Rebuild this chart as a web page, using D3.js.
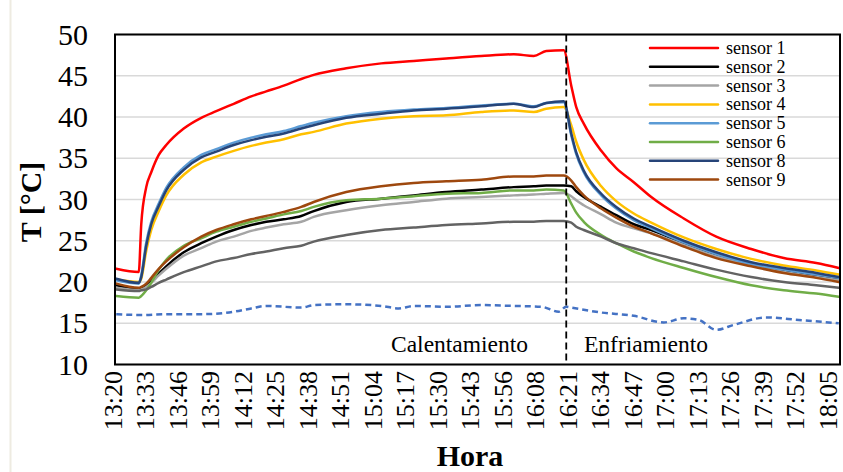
<!DOCTYPE html>
<html>
<head>
<meta charset="utf-8">
<script src="https://cdn.jsdelivr.net/npm/d3@7/dist/d3.min.js"></script>
<style>
  body { margin: 0; background: #fff; }
  svg { display: block; font-family: "Liberation Serif", "Times New Roman", serif; }
</style>
</head>
<body>
<div id="chart"></div>
<script>
// x axis: one category per reading, a label every 13 categories
var tickLabels = ['13:20', '13:33', '13:46', '13:59', '14:12', '14:25', '14:38', '14:51',
  '15:04', '15:17', '15:30', '15:43', '15:56', '16:08', '16:21', '16:34', '16:47',
  '17:00', '17:13', '17:26', '17:39', '17:52', '18:05'];
var categoryCount = 290;
var phaseChange = 180;   // end of heating (dashed line)

// readings at these category indices
var sampleIdx = [0, 9, 10, 12, 14, 17, 20, 27, 34, 40, 47, 54, 60, 67, 74, 79, 92, 106, 119, 132,
  146, 159, 167, 172, 179, 182, 184, 187, 194, 200, 207, 214, 227, 240, 254, 267, 280, 289];

var sensor1 = [21.6, 21.2, 27.0, 31.5, 33.3, 35.4, 36.6, 38.6, 39.9, 40.7, 41.6, 42.5, 43.1, 43.8, 44.6, 45.1, 45.9, 46.5, 46.8, 47.1,
  47.4, 47.6, 47.4, 48.0, 48.1, 43.8, 41.2, 39.2, 35.9, 33.8, 32.1, 30.3, 27.7, 25.5, 24.0, 22.9, 22.3, 21.7];
var sensor2 = [19.6, 19.2, 19.3, 19.6, 20.1, 21.0, 21.9, 23.6, 24.7, 25.5, 26.3, 26.9, 27.3, 27.6, 28.0, 28.6, 29.7, 30.1, 30.5, 30.9,
  31.2, 31.5, 31.6, 31.7, 31.7, 31.6, 31.0, 30.3, 29.1, 28.1, 27.0, 26.3, 24.7, 23.3, 22.1, 21.4, 20.8, 20.4];
var sensor3 = [19.3, 19.0, 19.1, 19.4, 19.9, 20.8, 21.6, 23.2, 24.1, 24.9, 25.5, 26.2, 26.6, 27.0, 27.3, 27.9, 28.7, 29.3, 29.7, 30.1,
  30.3, 30.5, 30.6, 30.7, 30.8, 30.4, 29.9, 29.3, 28.2, 27.2, 26.5, 25.9, 24.5, 23.1, 22.0, 21.2, 20.6, 20.2];
var sensor4 = [20.3, 20.0, 20.4, 23.8, 26.3, 28.6, 30.5, 33.0, 34.5, 35.2, 35.9, 36.5, 36.9, 37.3, 37.9, 38.2, 39.2, 39.8, 40.1, 40.2,
  40.6, 40.8, 40.6, 41.0, 41.2, 39.0, 37.0, 34.8, 31.6, 29.8, 28.3, 27.2, 25.4, 24.0, 22.8, 22.0, 21.4, 20.9];
var sensor5 = [20.2, 19.8, 20.8, 24.8, 27.3, 29.5, 31.4, 33.9, 35.4, 36.1, 36.9, 37.5, 37.9, 38.3, 38.9, 39.3, 40.1, 40.6, 40.9, 41.1,
  41.4, 41.6, 41.3, 41.7, 41.8, 37.8, 35.5, 33.3, 30.5, 28.9, 27.5, 26.5, 24.8, 23.4, 22.2, 21.5, 20.9, 20.5];
var sensor6 = [18.3, 18.1, 18.3, 19.0, 19.9, 21.5, 22.7, 24.4, 25.3, 26.1, 26.7, 27.3, 27.7, 28.2, 28.6, 29.1, 29.9, 30.1, 30.4, 30.7,
  30.8, 31.1, 31.1, 31.2, 31.1, 29.5, 28.4, 27.3, 25.7, 24.7, 23.7, 22.9, 21.7, 20.6, 19.6, 19.0, 18.6, 18.2];
var sensor7 = [19.1, 18.9, 19.0, 19.1, 19.4, 19.9, 20.3, 21.2, 21.9, 22.5, 22.9, 23.4, 23.7, 24.1, 24.4, 24.9, 25.7, 26.3, 26.6, 26.9,
  27.1, 27.3, 27.3, 27.4, 27.4, 27.2, 26.7, 26.3, 25.5, 24.7, 24.1, 23.5, 22.5, 21.5, 20.6, 20.0, 19.6, 19.3];
var sensor8 = [20.4, 19.9, 20.6, 24.4, 27.0, 29.2, 31.1, 33.6, 35.1, 35.8, 36.6, 37.2, 37.6, 38.0, 38.6, 39.0, 39.9, 40.4, 40.8, 41.0,
  41.3, 41.6, 41.2, 41.7, 41.9, 38.0, 35.7, 33.5, 30.7, 29.1, 27.7, 26.7, 25.0, 23.6, 22.4, 21.7, 21.1, 20.6];
var sensor9 = [19.8, 19.3, 19.4, 19.8, 20.5, 21.6, 22.5, 24.2, 25.5, 26.3, 27.0, 27.6, 28.0, 28.5, 29.1, 29.7, 30.9, 31.6, 32.0, 32.2,
  32.4, 32.8, 32.8, 32.9, 32.9, 32.3, 31.5, 30.5, 28.9, 27.8, 26.7, 25.9, 24.3, 22.9, 21.9, 21.1, 20.5, 20.0];

// ambient (dashed), its own sample points
var ambientIdx = [0, 10, 20, 34, 47, 54, 60, 74, 79, 92, 106, 113, 119, 132, 146, 159, 170, 177, 180, 182,
  194, 207, 219, 227, 233, 240, 247, 260, 273, 289];
var ambient = [16.1, 16.0, 16.1, 16.1, 16.4, 16.8, 17.1, 16.9, 17.2, 17.3, 17.1, 16.8, 17.1, 17.0, 17.2, 17.1, 17.0, 16.4, 17.0, 16.9,
  16.3, 15.9, 15.1, 15.6, 15.4, 14.2, 14.8, 15.7, 15.4, 15.0];

var yTicks = [10, 15, 20, 25, 30, 35, 40, 45, 50];

(function () {
  'use strict';

  var width = 843,
    height = 472,
    plot = {left: 115, right: 840, top: 34.5, bottom: 364.5};

  var series = [
    {name: 'sensor 1', values: sensor1, color: '#FF0000', legend: true},
    {name: 'sensor 2', values: sensor2, color: '#000000', legend: true},
    {name: 'sensor 3', values: sensor3, color: '#A5A5A5', legend: true},
    {name: 'sensor 4', values: sensor4, color: '#FFC000', legend: true},
    {name: 'sensor 5', values: sensor5, color: '#5B9BD5', legend: true},
    {name: 'sensor 6', values: sensor6, color: '#70AD47', legend: true},
    {name: 'sensor 7', values: sensor7, color: '#636363', legend: false},
    {name: 'sensor 8', values: sensor8, color: '#264478', legend: true},
    {name: 'sensor 9', values: sensor9, color: '#9E480E', legend: true}
  ];

  var x = d3.scaleLinear()
    .domain([-0.5, categoryCount - 0.5])
    .range([plot.left, plot.right]);

  var y = d3.scaleLinear()
    .domain([10, 50])
    .range([plot.bottom, plot.top]);

  var svg = d3.select('#chart')
    .append('svg')
    .attr('width', width)
    .attr('height', height);

  // faint chart-area edge on the left
  svg.append('line')
    .attr('x1', 10.5).attr('x2', 10.5)
    .attr('y1', 0).attr('y2', height)
    .attr('stroke', '#EEEBE1')
    .attr('stroke-width', 2);

  // gridlines
  svg.append('g')
    .selectAll('line')
    .data(yTicks)
    .enter()
    .append('line')
    .attr('x1', plot.left)
    .attr('x2', plot.right)
    .attr('y1', function (d) { return y(d); })
    .attr('y2', function (d) { return y(d); })
    .attr('stroke', '#D9D9D9')
    .attr('stroke-width', 1.5);

  // y tick labels
  svg.append('g')
    .selectAll('text')
    .data(yTicks)
    .enter()
    .append('text')
    .attr('x', 88)
    .attr('y', function (d) { return y(d); })
    .attr('dy', '0.34em')
    .attr('text-anchor', 'end')
    .attr('font-size', 30)
    .attr('fill', '#000')
    .text(function (d) { return d; });

  // x tick labels, rotated
  svg.append('g')
    .selectAll('text')
    .data(tickLabels)
    .enter()
    .append('text')
    .attr('transform', function (d, i) {
      return 'translate(' + [x(i * 13), 371] + ') rotate(-90)';
    })
    .attr('dy', '0.22em')
    .attr('text-anchor', 'end')
    .attr('font-size', 26)
    .attr('fill', '#000')
    .text(function (d) { return d; });

  // axis titles
  svg.append('text')
    .attr('transform', 'translate(' + [41, 202] + ') rotate(-90)')
    .attr('text-anchor', 'middle')
    .attr('font-size', 30)
    .attr('font-weight', 'bold')
    .text('T [°C]');

  svg.append('text')
    .attr('x', 470)
    .attr('y', 466)
    .attr('text-anchor', 'middle')
    .attr('font-size', 30)
    .attr('font-weight', 'bold')
    .text('Hora');

  var line = d3.line()
    .x(function (d) { return x(d[0]); })
    .y(function (d) { return y(d[1]); })
    .curve(d3.curveMonotoneX);

  var lines = svg.append('g')
    .attr('fill', 'none')
    .attr('stroke-linejoin', 'round')
    .attr('stroke-linecap', 'round');

  lines.selectAll('path.sensor')
    .data(series)
    .enter()
    .append('path')
    .attr('class', 'sensor')
    .attr('d', function (s) {
      return line(sampleIdx.map(function (idx, k) { return [idx, s.values[k]]; }));
    })
    .attr('stroke', function (s) { return s.color; })
    .attr('stroke-width', 2.5);

  lines.append('path')
    .attr('d', line(ambientIdx.map(function (idx, k) { return [idx, ambient[k]]; })))
    .attr('stroke', '#4472C4')
    .attr('stroke-width', 2.5)
    .attr('stroke-linecap', 'butt')
    .attr('stroke-dasharray', '6,4');

  // heating / cooling divider
  svg.append('line')
    .attr('x1', x(phaseChange)).attr('x2', x(phaseChange))
    .attr('y1', plot.top).attr('y2', plot.bottom)
    .attr('stroke', '#000')
    .attr('stroke-width', 1.8)
    .attr('stroke-dasharray', '7,4');

  svg.append('text')
    .attr('x', 391)
    .attr('y', 352)
    .attr('font-size', 23.5)
    .text('Calentamiento');

  svg.append('text')
    .attr('x', 584)
    .attr('y', 352)
    .attr('font-size', 23.5)
    .text('Enfriamiento');

  // plot border
  svg.append('rect')
    .attr('x', plot.left)
    .attr('y', plot.top)
    .attr('width', plot.right - plot.left)
    .attr('height', plot.bottom - plot.top)
    .attr('fill', 'none')
    .attr('stroke', '#000')
    .attr('stroke-width', 2);

  // legend
  var legend = svg.append('g')
    .selectAll('g')
    .data(series.filter(function (s) { return s.legend; }))
    .enter()
    .append('g')
    .attr('transform', function (d, i) {
      return 'translate(' + [650, 48 + i * 18.8] + ')';
    });

  legend.append('line')
    .attr('x1', 0)
    .attr('x2', 68)
    .attr('stroke', function (d) { return d.color; })
    .attr('stroke-width', 2.5)
    .attr('stroke-linecap', 'round');

  legend.append('text')
    .attr('x', 76)
    .attr('dy', '0.33em')
    .attr('font-size', 18)
    .text(function (d) { return d.name; });
}());
</script>
</body>
</html>
